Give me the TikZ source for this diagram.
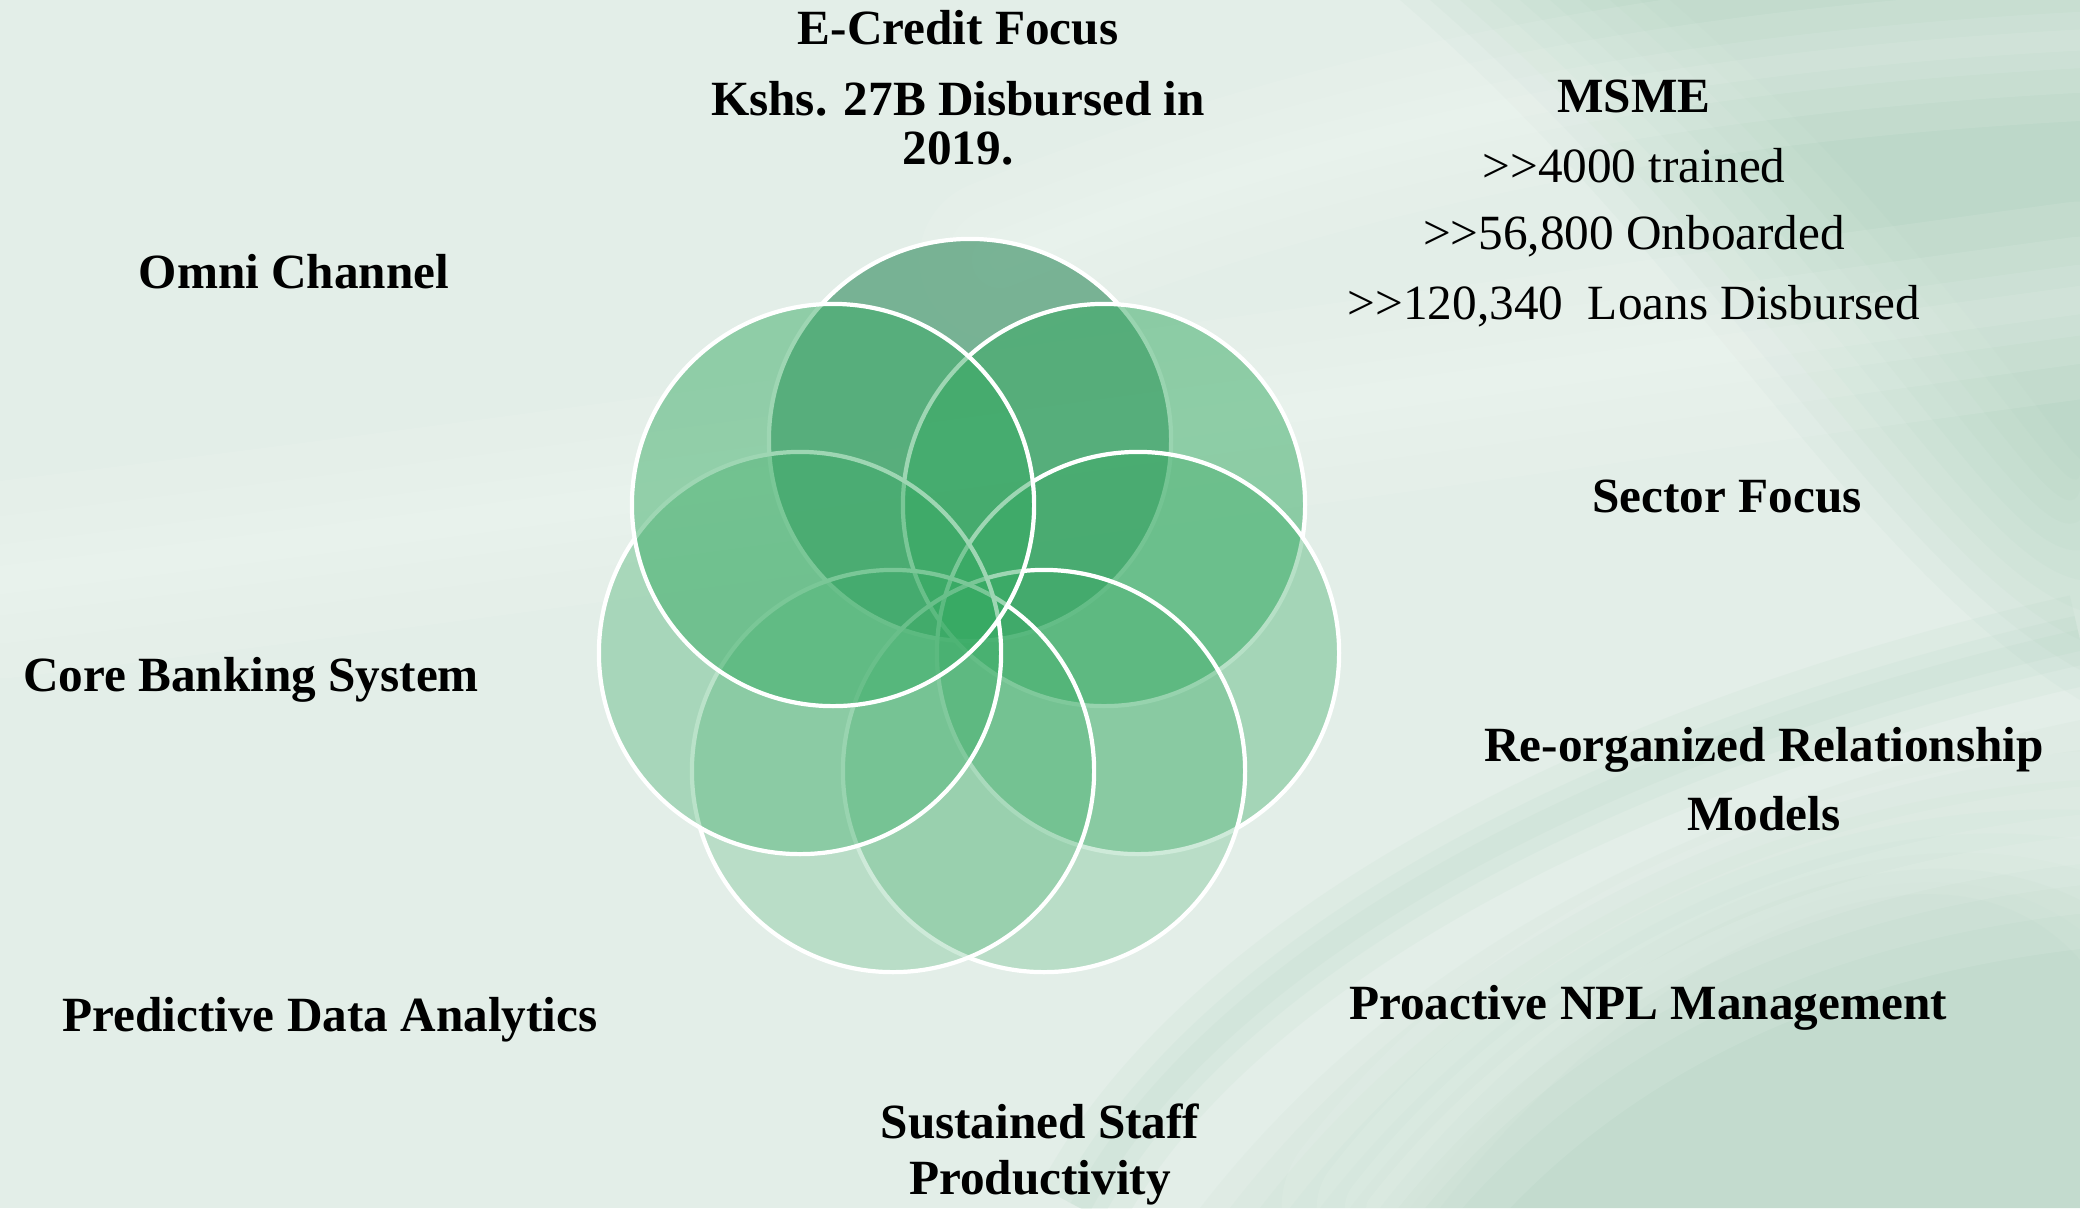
\documentclass[tikz,border=0pt]{standalone}
\usepackage{fontspec}
\setmainfont{Liberation Serif}
\usetikzlibrary{calc}
\definecolor{BgBase} {RGB}{227,238,232}
\definecolor{BgDeep} {RGB}{150,198,172}
\definecolor{BgGlow} {RGB}{248,251,249}
\definecolor{PetTop} {RGB}{62,146,103}
\definecolor{PetMain}{RGB}{53,170,98}
\tikzset{
  petal/.style={circle,draw=white,line width=1.2pt,minimum size=4.02cm,inner sep=0pt,fill=PetMain},
  lbl_b/.style={font=\fontsize{14}{14}\selectfont\bfseries,align=center,inner sep=0pt},
  lbl_n/.style={font=\fontsize{14}{14}\selectfont,align=center,inner sep=0pt},
  glow/.style={BgGlow,opacity=0.10,line cap=round},
}

\begin{document}
\begin{tikzpicture}[x=0.01cm,y=-0.01cm]
\useasboundingbox (0,0) rectangle (2080,1208);

% background, soft swooshes built from thin layers
\fill[BgBase] (0,0) rectangle (2080,1208);
\foreach \d in {0,30,...,270}
  \fill[BgDeep,opacity=0.06] (1400+\d,0) .. controls (1700+\d,260) and (1850+\d,560) .. (2080,700-\d) -- (2080,0) -- cycle;
\foreach \d in {0,30,...,240}
  \fill[BgDeep,opacity=0.05] (1200+\d,1208) .. controls (1400+\d,950) and (1700+\d,800) .. (2080,720+\d) -- (2080,1208) -- cycle;
\foreach \w in {8,20,36,56}
  \draw[glow,line width=\w pt] (0,580) .. controls (500,520) and (1200,420) .. (2080,300);
\foreach \w in {6,16,30,46}
  \draw[glow,line width=\w pt] (1000,260) .. controls (1350,120) and (1700,60) .. (2080,40);
\foreach \w in {8,20,36,56}
  \draw[glow,line width=\w pt] (1380,1208) .. controls (1550,990) and (1800,880) .. (2080,850);
\foreach \w in {6,14,26}
  \draw[BgDeep,opacity=0.07,line width=\w pt] (1080,1208) .. controls (1200,980) and (1550,760) .. (2080,640);

% petals, clockwise from the top
\node[petal,fill=PetTop,fill opacity=0.65] (c_top) at (970,440) {};
\node[petal,fill opacity=0.50] (c_ur) at (1104,505) {};
\node[petal,fill opacity=0.36] (c_mr) at (1138,653) {};
\node[petal,fill opacity=0.24] (c_br) at (1044,771) {};
\node[petal,fill opacity=0.24] (c_bl) at (893,771) {};
\node[petal,fill opacity=0.34] (c_ml) at (800,653) {};
\node[petal,fill opacity=0.48] (c_ul) at (833,505) {};

% labels
\node[lbl_b] (t_ecr)  at (958,28)  {E-Credit Focus};
\node[lbl_b,font=\fontsize{14}{13.9}\selectfont\bfseries] (t_kshs) at (958,123) {Kshs. 27B Disbursed in\\2019.};
\node[lbl_b] (t_msme) at (1634,96)  {MSME};
\node[lbl_n] (t_m1)   at (1634,166) {>{}>4000 trained};
\node[lbl_n] (t_m2)   at (1634,236) {>{}>56,800 Onboarded};
\node[lbl_n] (t_m3)   at (1634,306) {>{}>120,340\ \ Loans Disbursed};
\node[lbl_b] (t_omni) at (294,272)  {Omni Channel};
\node[lbl_b] (t_sect) at (1727,496) {Sector Focus};
\node[lbl_b] (t_core) at (251,680)  {Core Banking System};
\node[lbl_b,font=\fontsize{14}{19.6}\selectfont\bfseries] (t_reorg) at (1764,779) {Re-organized Relationship\\Models};
\node[lbl_b] (t_npl)  at (1648,1008) {Proactive NPL Management};
\node[lbl_b] (t_pred) at (330,1020)  {Predictive Data Analytics};
\node[lbl_b,font=\fontsize{14}{15.9}\selectfont\bfseries] (t_staff) at (1040,1154) {Sustained Staff\\Productivity};

\end{tikzpicture}
\end{document}
